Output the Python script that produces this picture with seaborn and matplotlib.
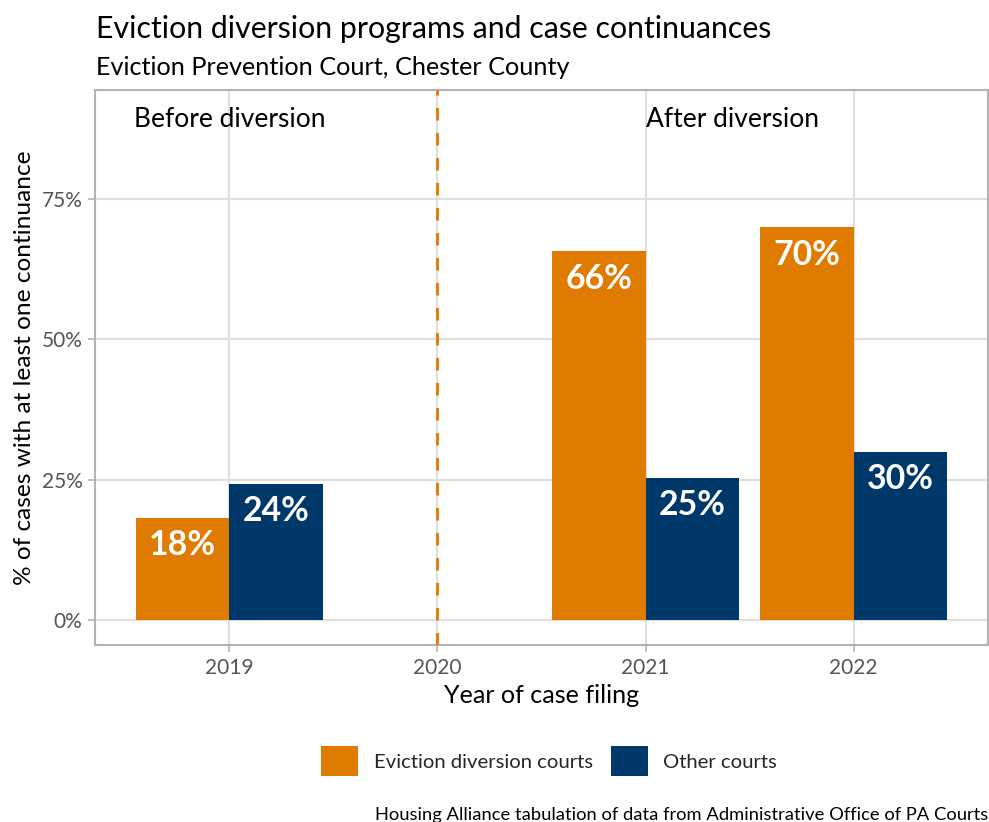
import matplotlib
matplotlib.use("Agg")
import matplotlib.pyplot as plt
import matplotlib.patches as mpatches
import seaborn as sns
import pandas as pd

# Data
years = ["2019", "2020", "2021", "2022"]
data_years = ["2019", "2021", "2022"]
diversion_share = [0.182, 0.657, 0.700]
other_share = [0.243, 0.253, 0.300]
groups = ["Eviction diversion courts", "Other courts"]
colors = ["#DF7B00", "#00386A"]

df = pd.DataFrame({
    "year": data_years * 2,
    "share": diversion_share + other_share,
    "group": [groups[0]] * 3 + [groups[1]] * 3,
})

sns.set_theme(style="white")
plt.rcParams["font.family"] = ["Lato", "DejaVu Sans"]

fig = plt.figure(figsize=(9.89, 8.22), dpi=100)
ax = fig.add_axes([95 / 989, 1 - 645 / 822, (988 - 95) / 989, (645 - 90) / 822])

grid_col = "#DEDEDE"
for yv in [0, 0.25, 0.5, 0.75]:
    ax.axhline(yv, color=grid_col, lw=1.5, zorder=0)
for xv in range(len(years)):
    ax.axvline(xv, color=grid_col, lw=1.5, zorder=0)

sns.barplot(data=df, x="year", y="share", hue="group", order=years,
            hue_order=groups, palette=colors, width=0.9, dodge=True,
            saturation=1, ax=ax, legend=False, linewidth=0, zorder=2)

# Value labels inside the top of each bar
for cont in ax.containers:
    for bar in cont:
        h = bar.get_height()
        if h != h or h == 0:
            continue
        ax.annotate(f"{round(h * 100):.0f}%",
                    xy=(bar.get_x() + bar.get_width() / 2, h),
                    xytext=(0, -26.8), textcoords="offset points",
                    ha="center", va="baseline", color="white",
                    fontsize=24.4, fontweight="bold", zorder=4)

# Program start marker
ax.axvline(1, color="#DF7B00", lw=2, ls=(0, (4.5, 4.5)), zorder=3)
for xpos, label in [(0, "Before diversion"), (2.417, "After diversion")]:
    ax.annotate(label, xy=(xpos, 0.9), xytext=(0, -3), textcoords="offset points",
                ha="center", va="center", fontsize=19, color="black")

ax.set_xlim(-0.645, 3.645)
ax.set_ylim(-0.045, 0.945)
ax.set_yticks([0, 0.25, 0.5, 0.75])
ax.set_yticklabels(["0%", "25%", "50%", "75%"])
ax.set_xticks(range(len(years)))
ax.set_xticklabels(years)
ax.tick_params(axis="both", colors="#B3B3B3", length=5, width=1.2,
               labelcolor="#555555", labelsize=15, pad=4, bottom=True, left=True)
for s in ax.spines.values():
    s.set_color("#B3B3B3")
    s.set_linewidth(1.5)

ax.set_xlabel("Year of case filing", fontsize=18.1, color="black", labelpad=5)
ax.set_ylabel("% of cases with at least one continuance", fontsize=17.6, color="black", labelpad=5)

fig.text(96 / 989, 1 - 38 / 822, "Eviction diversion programs and case continuances",
         fontsize=21.8, ha="left", va="baseline", color="black")
fig.text(96 / 989, 1 - 75 / 822, "Eviction Prevention Court, Chester County",
         fontsize=18.2, ha="left", va="baseline", color="black")

handles = [mpatches.Patch(facecolor=c, edgecolor="none", label=g) for c, g in zip(colors, groups)]
fig.legend(handles=handles, loc="center", bbox_to_anchor=(549 / 989, 1 - 761 / 822),
           ncol=2, frameon=False, fontsize=14.6, handlelength=1.85, handleheight=1.85,
           handletextpad=0.75, columnspacing=0.9)

fig.text(988 / 989, 1 - 820 / 822,
         "Housing Alliance tabulation of data from Administrative Office of PA Courts",
         fontsize=13.2, ha="right", va="baseline", color="black")

fig.savefig("out.png", dpi=100, facecolor="white")
